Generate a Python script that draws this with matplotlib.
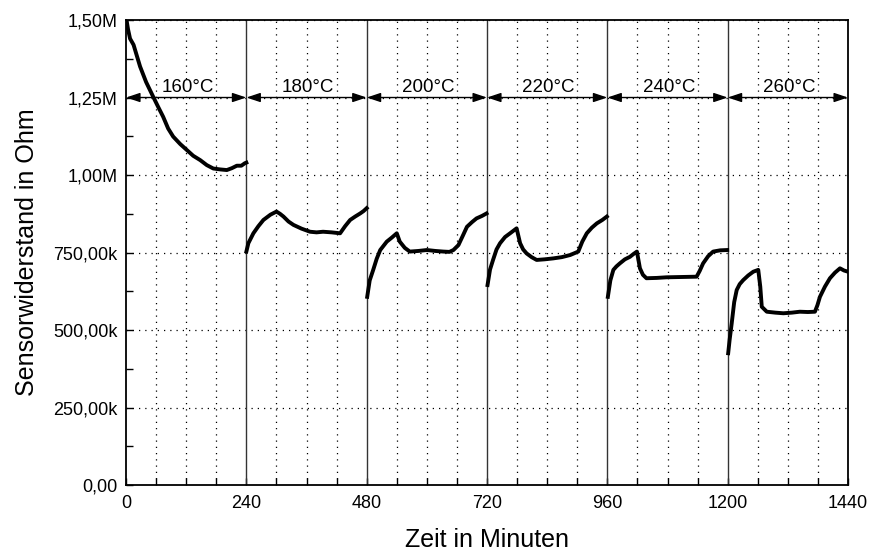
import matplotlib
matplotlib.use("Agg")
import matplotlib.pyplot as plt
from matplotlib.ticker import FixedLocator, MultipleLocator, FuncFormatter

plt.rcParams['font.family'] = ['Liberation Sans', 'DejaVu Sans']

# Temperature steps (minutes) and their labels
step_edges = [0, 240, 480, 720, 960, 1200, 1440]
step_labels = ["160°C", "180°C", "200°C", "220°C", "240°C", "260°C"]

# Sensor resistance trace per temperature step: time (min), resistance (Ohm)
t_160 = [0, 4, 8, 15, 28, 40, 54, 64, 74, 84, 94, 108, 121, 134, 148, 161, 174, 188, 201, 211, 221, 230, 237, 240]
r_160 = [1510e3, 1470e3, 1440e3, 1420e3, 1350e3, 1300e3, 1253e3, 1220e3, 1188e3, 1150e3, 1124e3, 1100e3, 1081e3,
         1062e3, 1048e3, 1032e3, 1021e3, 1018e3, 1016e3, 1022e3, 1030e3, 1030e3, 1038e3, 1040e3]

t_180 = [240, 244, 254, 264, 274, 288, 300, 307, 314, 324, 334, 350, 367, 380, 393, 410, 427, 437, 447, 457, 467, 474, 480]
r_180 = [753e3, 780e3, 812e3, 835e3, 855e3, 872e3, 882e3, 875e3, 866e3, 850e3, 839e3, 827e3, 817e3, 815e3,
         817e3, 815e3, 812e3, 835e3, 855e3, 866e3, 876e3, 884e3, 893e3]

t_200 = [481, 486, 493, 500, 507, 520, 530, 540, 546, 556, 566, 583, 600, 617, 633, 645, 653, 663, 672, 680, 690, 699, 710, 719]
r_200 = [607e3, 660e3, 694e3, 730e3, 758e3, 785e3, 798e3, 812e3, 785e3, 765e3, 753e3, 755e3, 758e3, 755e3,
         753e3, 752e3, 758e3, 774e3, 805e3, 833e3, 848e3, 860e3, 868e3, 876e3]

t_220 = [721, 726, 732, 739, 746, 756, 766, 779, 786, 792, 799, 809, 819, 835, 852, 869, 886, 902, 910, 919, 929, 939, 950, 959]
r_220 = [645e3, 695e3, 726e3, 760e3, 780e3, 800e3, 812e3, 828e3, 780e3, 760e3, 747e3, 735e3, 726e3, 728e3,
         731e3, 735e3, 742e3, 753e3, 785e3, 812e3, 830e3, 844e3, 855e3, 866e3]

t_240 = [961, 966, 972, 978, 985, 995, 1005, 1012, 1019, 1025, 1031, 1038, 1058, 1078, 1108, 1138, 1144, 1151, 1161, 1171, 1185, 1199]
r_240 = [607e3, 660e3, 694e3, 705e3, 715e3, 728e3, 736e3, 745e3, 753e3, 699e3, 678e3, 667e3, 668e3, 670e3,
         671e3, 672e3, 690e3, 715e3, 738e3, 753e3, 757e3, 758e3]

t_260 = [1201, 1204, 1208, 1213, 1218, 1224, 1231, 1241, 1251, 1261, 1265, 1268, 1278, 1295, 1311, 1328, 1344, 1360,
         1374, 1379, 1384, 1394, 1404, 1414, 1424, 1432, 1440]
r_260 = [425e3, 470e3, 521e3, 590e3, 629e3, 648e3, 661e3, 676e3, 688e3, 694e3, 640e3, 575e3, 559e3, 556e3,
         554e3, 556e3, 559e3, 558e3, 559e3, 580e3, 607e3, 640e3, 667e3, 685e3, 699e3, 692e3, 688e3]

segments = [(t_160, r_160), (t_180, r_180), (t_200, r_200), (t_220, r_220), (t_240, r_240), (t_260, r_260)]

fig = plt.figure(figsize=(8.71, 5.56), dpi=100)
ax = fig.add_axes([0.1447, 0.1277, 0.8289, 0.8363])

# dotted grid
for x in range(60, 1440, 60):
    if x % 240:
        ax.axvline(x, color="black", lw=0.9, ls=(0, (1, 4)), zorder=1)
for y in range(250000, 1500001, 250000):
    ax.axhline(y, color="black", lw=0.9, ls=(0, (1, 4)), zorder=1)

# step boundaries
for x in step_edges[1:-1]:
    ax.axvline(x, color="#333333", lw=1.0, zorder=2)

for t, r in segments:
    ax.plot(t, r, color="black", lw=2.8, zorder=4, solid_joinstyle="round")

# temperature arrows and labels
for i, lab in enumerate(step_labels):
    a, b = step_edges[i], step_edges[i + 1]
    ax.annotate("", xy=(a, 1.25e6), xytext=(b, 1.25e6),
                arrowprops=dict(arrowstyle="<|-|>,head_length=0.6,head_width=0.2", color="black", lw=1.0,
                                mutation_scale=14, shrinkA=0, shrinkB=0),
                zorder=5, annotation_clip=False)
    ax.text((a + b) / 2 + 3, 1.268e6, lab, ha="center", va="baseline", fontsize=13.5,
            bbox=dict(facecolor="white", edgecolor="none", pad=0.3), zorder=3)

ax.set_xlim(0, 1440)
ax.set_ylim(0, 1.5e6)
ax.xaxis.set_major_locator(FixedLocator(step_edges))
ax.xaxis.set_minor_locator(MultipleLocator(60))
ax.yaxis.set_major_locator(MultipleLocator(250000))
ax.yaxis.set_minor_locator(MultipleLocator(125000))


def fmt_ohm(v, pos):
    if v >= 1e6:
        return f"{v / 1e6:.2f}M".replace(".", ",")
    if v >= 1e3:
        return f"{v / 1e3:.2f}k".replace(".", ",")
    return "0,00"


ax.yaxis.set_major_formatter(FuncFormatter(fmt_ohm))
ax.tick_params(which="both", direction="in", labelsize=13, width=1.0)
ax.tick_params(which="major", length=5)
ax.tick_params(which="minor", length=5)
ax.tick_params(axis="x", pad=7)
ax.tick_params(axis="y", pad=6)
for s in ax.spines.values():
    s.set_linewidth(1.3)

ax.set_xlabel("Zeit in Minuten", fontsize=18, labelpad=12)
ax.set_ylabel("Sensorwiderstand in Ohm", fontsize=18, labelpad=10)

fig.savefig("out.png", dpi=100)
